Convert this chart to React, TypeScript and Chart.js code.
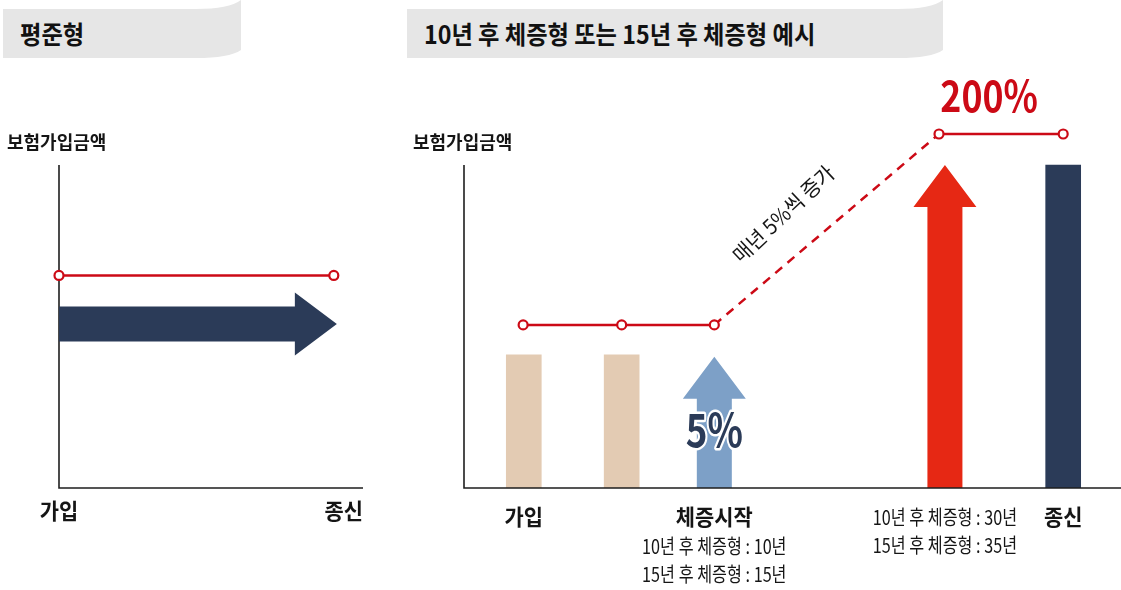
import React, { useEffect, useRef } from "react";
import { Chart, registerables } from "chart.js";

Chart.register(...registerables);

// ---------- Left chart: 평준형 ----------
const levelAxisLabels = ["가입", "종신"];
const levelAxisLabelX = [0, 100];
const levelLineX = [0, 90.4];
const levelLineY = [65.8, 65.8];
const levelArrowFrom = [0];
const levelArrowTo = [91.4];
const levelArrowY = [50.8];

// ---------- Right chart: 체증형 ----------
const stageLabels = ["가입", "", "체증시작", "", "종신"];
const stageX = [9.1, 24.0, 38.1, 73.2, 91.2];
const stageNotes: string[][] = [
  [],
  [],
  ["10년 후 체증형 : 10년", "15년 후 체증형 : 15년"],
  ["10년 후 체증형 : 30년", "15년 후 체증형 : 35년"],
  [],
];
const barX = [9.1, 24.0, 91.2];
const barValues = [41.2, 41.2, 100];
const barColors = ["#e3cbb3", "#e3cbb3", "#2b3b58"];
const riseArrowX = [38.1, 73.2];
const riseArrowTop = [40.6, 100];
const riseArrowColors = ["#7da0c7", "#e62814"];
const riseArrowText = ["5%", ""];
const sumLineX = [9.0, 24.0, 38.1, 72.3, 91.2];
const sumLineY = [50.5, 50.5, 50.5, 109.6, 109.6];
const peakText = "200%";
const slopeText = "매년 5%씩 증가";
const yAxisTitle = "보험가입금액";
const axisTop = 100; // value where the drawn y axis line ends
const scaleMax = 120;

const RED = "#cc0a16";
const INK = "#151515";
const FONT = '"Noto Sans CJK KR", "Noto Sans", sans-serif';
const BODY = 35;
const HEAD_W = 63;
const HEAD_L = 42;

function txt(
  ctx: CanvasRenderingContext2D,
  s: string,
  x: number,
  y: number,
  font: string,
  color: string,
  sx = 1,
  align: CanvasTextAlign = "center",
  baseline: CanvasTextBaseline = "middle",
  angle = 0,
  stroke = 0
) {
  ctx.save();
  ctx.font = font;
  ctx.textAlign = align;
  ctx.textBaseline = baseline;
  ctx.translate(x, y);
  if (angle) ctx.rotate(angle);
  ctx.scale(sx, 1);
  if (stroke) {
    ctx.lineJoin = "round";
    ctx.lineWidth = stroke;
    ctx.strokeStyle = "#ffffff";
    ctx.strokeText(s, 0, 0);
  }
  ctx.fillStyle = color;
  ctx.fillText(s, 0, 0);
  ctx.restore();
}

function upArrow(ctx: CanvasRenderingContext2D, cx: number, yb: number, yt: number, color: string) {
  const b = BODY / 2;
  const h = HEAD_W / 2;
  ctx.save();
  ctx.fillStyle = color;
  ctx.beginPath();
  ctx.moveTo(cx - b, yb);
  ctx.lineTo(cx - b, yt + HEAD_L);
  ctx.lineTo(cx - h, yt + HEAD_L);
  ctx.lineTo(cx, yt);
  ctx.lineTo(cx + h, yt + HEAD_L);
  ctx.lineTo(cx + b, yt + HEAD_L);
  ctx.lineTo(cx + b, yb);
  ctx.closePath();
  ctx.fill();
  ctx.restore();
}

function rightArrow(ctx: CanvasRenderingContext2D, x0: number, x1: number, cy: number, color: string) {
  const b = BODY / 2;
  const h = HEAD_W / 2;
  ctx.save();
  ctx.fillStyle = color;
  ctx.beginPath();
  ctx.moveTo(x0, cy - b);
  ctx.lineTo(x1 - HEAD_L, cy - b);
  ctx.lineTo(x1 - HEAD_L, cy - h);
  ctx.lineTo(x1, cy);
  ctx.lineTo(x1 - HEAD_L, cy + h);
  ctx.lineTo(x1 - HEAD_L, cy + b);
  ctx.lineTo(x0, cy + b);
  ctx.closePath();
  ctx.fill();
  ctx.restore();
}

function axes(ctx: CanvasRenderingContext2D, left: number, top: number, right: number, bottom: number) {
  ctx.save();
  ctx.strokeStyle = "#1e1e1e";
  ctx.lineWidth = 1.6;
  ctx.beginPath();
  ctx.moveTo(left, top);
  ctx.lineTo(left, bottom);
  ctx.lineTo(right, bottom);
  ctx.stroke();
  ctx.restore();
}

const leftDecor = {
  id: "leftDecor",
  beforeDatasetsDraw(chart: any) {
    const { ctx, chartArea: a, scales } = chart;
    const x = scales.x;
    const y = scales.y;
    axes(ctx, a.left, a.top, a.right, a.bottom);
    levelArrowFrom.forEach((v, i) => {
      rightArrow(ctx, x.getPixelForValue(v), x.getPixelForValue(levelArrowTo[i]), y.getPixelForValue(levelArrowY[i]), "#2b3b58");
    });
  },
  afterDatasetsDraw(chart: any) {
    const { ctx, chartArea: a, scales } = chart;
    const x = scales.x;
    txt(ctx, yAxisTitle, a.left - 52, a.top - 23, `bold 18px ${FONT}`, INK, 1.0, "left");
    levelAxisLabels.forEach((s, i) => {
      const align = i === 0 ? "center" : "right";
      txt(ctx, s, x.getPixelForValue(levelAxisLabelX[i]), a.bottom + 23, `bold 22px ${FONT}`, INK, 0.95, align as CanvasTextAlign);
    });
  },
};

const rightDecor = {
  id: "rightDecor",
  beforeDatasetsDraw(chart: any) {
    const { ctx, scales } = chart;
    const x = scales.x;
    const y = scales.y;
    riseArrowX.forEach((v, i) => {
      upArrow(ctx, x.getPixelForValue(v), y.getPixelForValue(0), y.getPixelForValue(riseArrowTop[i]), riseArrowColors[i]);
    });
  },
  afterDatasetsDraw(chart: any) {
    const { ctx, chartArea: a, scales } = chart;
    const x = scales.x;
    const y = scales.y;
    const top = y.getPixelForValue(axisTop);
    axes(ctx, a.left, top, a.right, a.bottom);
    txt(ctx, yAxisTitle, a.left - 51, top - 23, `bold 18px ${FONT}`, INK, 1.0, "left");
    // arrow texts
    riseArrowX.forEach((v, i) => {
      if (!riseArrowText[i]) return;
      txt(ctx, riseArrowText[i], x.getPixelForValue(v), a.bottom - 41, `bold 46px ${FONT}`, "#2b3b58", 0.8, "center", "alphabetic", 0, 5);
    });
    // stage labels
    stageX.forEach((v, i) => {
      const px = x.getPixelForValue(v);
      let yy = a.bottom + 29;
      if (stageLabels[i]) {
        txt(ctx, stageLabels[i], px, yy, `bold 22px ${FONT}`, INK, 0.95);
        yy += 29;
      }
      stageNotes[i].forEach((n) => {
        txt(ctx, n, px, yy, `20px ${FONT}`, INK, 0.81);
        yy += 28;
      });
    });
    // peak text
    const p3x = x.getPixelForValue(sumLineX[3]);
    const p4x = x.getPixelForValue(sumLineX[4]);
    const p3y = y.getPixelForValue(sumLineY[3]);
    txt(ctx, peakText, (p3x + p4x) / 2 - 12, p3y - 22, `bold 43px ${FONT}`, RED, 0.83, "center", "alphabetic");
    // slope text
    const p2x = x.getPixelForValue(sumLineX[2]);
    const p2y = y.getPixelForValue(sumLineY[2]);
    const ang = Math.atan2(p3y - p2y, p3x - p2x);
    const mx = (p2x + p3x) / 2;
    const my = (p2y + p3y) / 2;
    const ux = Math.cos(ang);
    const uy = Math.sin(ang);
    const nx = uy;
    const ny = -ux;
    const cx = mx - 23 * ux + 40 * nx;
    const cy = my - 23 * uy + 40 * ny;
    txt(ctx, slopeText, cx, cy, `21px ${FONT}`, INK, 0.95, "center", "middle", ang - 0.05);
  },
};

function Tab({ x0, x1 }: { x0: number; x1: number }) {
  const d = `M ${x0} 9 L ${x1 - 45} 9 Q ${x1 - 12} 9 ${x1} 0 L ${x1} 50 Q ${x1 - 12} 58 ${x1 - 45} 58 L ${x0} 58 Z`;
  return <path d={d} fill="#e6e6e6" />;
}

export default function App() {
  const leftRef = useRef<HTMLCanvasElement>(null);
  const rightRef = useRef<HTMLCanvasElement>(null);

  useEffect(() => {
    const left = new Chart(leftRef.current as HTMLCanvasElement, {
      type: "line",
      data: {
        datasets: [
          {
            data: levelLineX.map((v, i) => ({ x: v, y: levelLineY[i] })),
            borderColor: RED,
            borderWidth: 2.5,
            pointRadius: 4.5,
            pointBorderWidth: 2.2,
            pointBackgroundColor: "#ffffff",
            pointBorderColor: RED,
            clip: false as any,
          },
        ],
      },
      options: {
        animation: false,
        responsive: false,
        events: [],
        layout: { autoPadding: false, padding: { left: 59, right: 37, top: 165, bottom: 102 } },
        plugins: { legend: { display: false }, tooltip: { enabled: false }, title: { display: false } },
        scales: {
          x: { type: "linear", min: 0, max: 100, display: false, offset: false },
          y: { type: "linear", min: 0, max: 100, display: false },
        },
      },
      plugins: [leftDecor],
    });

    // plot height for 0..axisTop is 323px; extend area upward for values above axisTop
    const topPad = 488 - 323 * (scaleMax / axisTop);

    const right = new Chart(rightRef.current as HTMLCanvasElement, {
      type: "bar",
      data: {
        datasets: [
          {
            type: "line",
            data: sumLineX.map((v, i) => ({ x: v, y: sumLineY[i] })),
            borderColor: RED,
            borderWidth: 2.5,
            pointRadius: 4.5,
            pointBorderWidth: 2.2,
            pointBackgroundColor: "#ffffff",
            pointBorderColor: RED,
            clip: false as any,
            order: 0,
            segment: {
              borderDash: (c: any) => (c.p0DataIndex === 2 ? [9, 7] : undefined),
            },
          } as any,
          {
            type: "bar",
            data: barX.map((v, i) => ({ x: v, y: barValues[i] })),
            backgroundColor: barColors,
            barThickness: BODY,
            order: 1,
          } as any,
        ],
      },
      options: {
        animation: false,
        responsive: false,
        events: [],
        layout: { autoPadding: false, padding: { left: 64, right: 0, top: topPad, bottom: 102 } },
        plugins: { legend: { display: false }, tooltip: { enabled: false }, title: { display: false } },
        scales: {
          x: { type: "linear", min: 0, max: 100, display: false, offset: false },
          y: { type: "linear", min: 0, max: scaleMax, display: false },
        },
      },
      plugins: [rightDecor],
    });

    (document as any).fonts?.ready?.then(() => {
      left.update();
      right.update();
    });

    return () => {
      left.destroy();
      right.destroy();
    };
  }, []);

  const titleStyle: React.CSSProperties = {
    position: "absolute",
    top: 19,
    fontFamily: FONT,
    fontWeight: 700,
    fontSize: 25,
    lineHeight: "28px",
    color: "#111",
    whiteSpace: "nowrap",
    transformOrigin: "left center",
    transform: "scaleX(0.93)",
  };

  return (
    <div style={{ position: "absolute", left: 0, top: 0, width: 1121, height: 590, background: "#fff", overflow: "hidden" }}>
      <svg width={1121} height={70} style={{ position: "absolute", left: 0, top: 0 }}>
        <Tab x0={3} x1={241} />
        <Tab x0={407} x1={943} />
      </svg>
      <div style={{ ...titleStyle, left: 20 }}>평준형</div>
      <div style={{ ...titleStyle, left: 424 }}>10년 후 체증형 또는 15년 후 체증형 예시</div>
      <canvas ref={leftRef} width={400} height={590} style={{ position: "absolute", left: 0, top: 0 }} />
      <canvas ref={rightRef} width={721} height={590} style={{ position: "absolute", left: 400, top: 0 }} />
    </div>
  );
}
